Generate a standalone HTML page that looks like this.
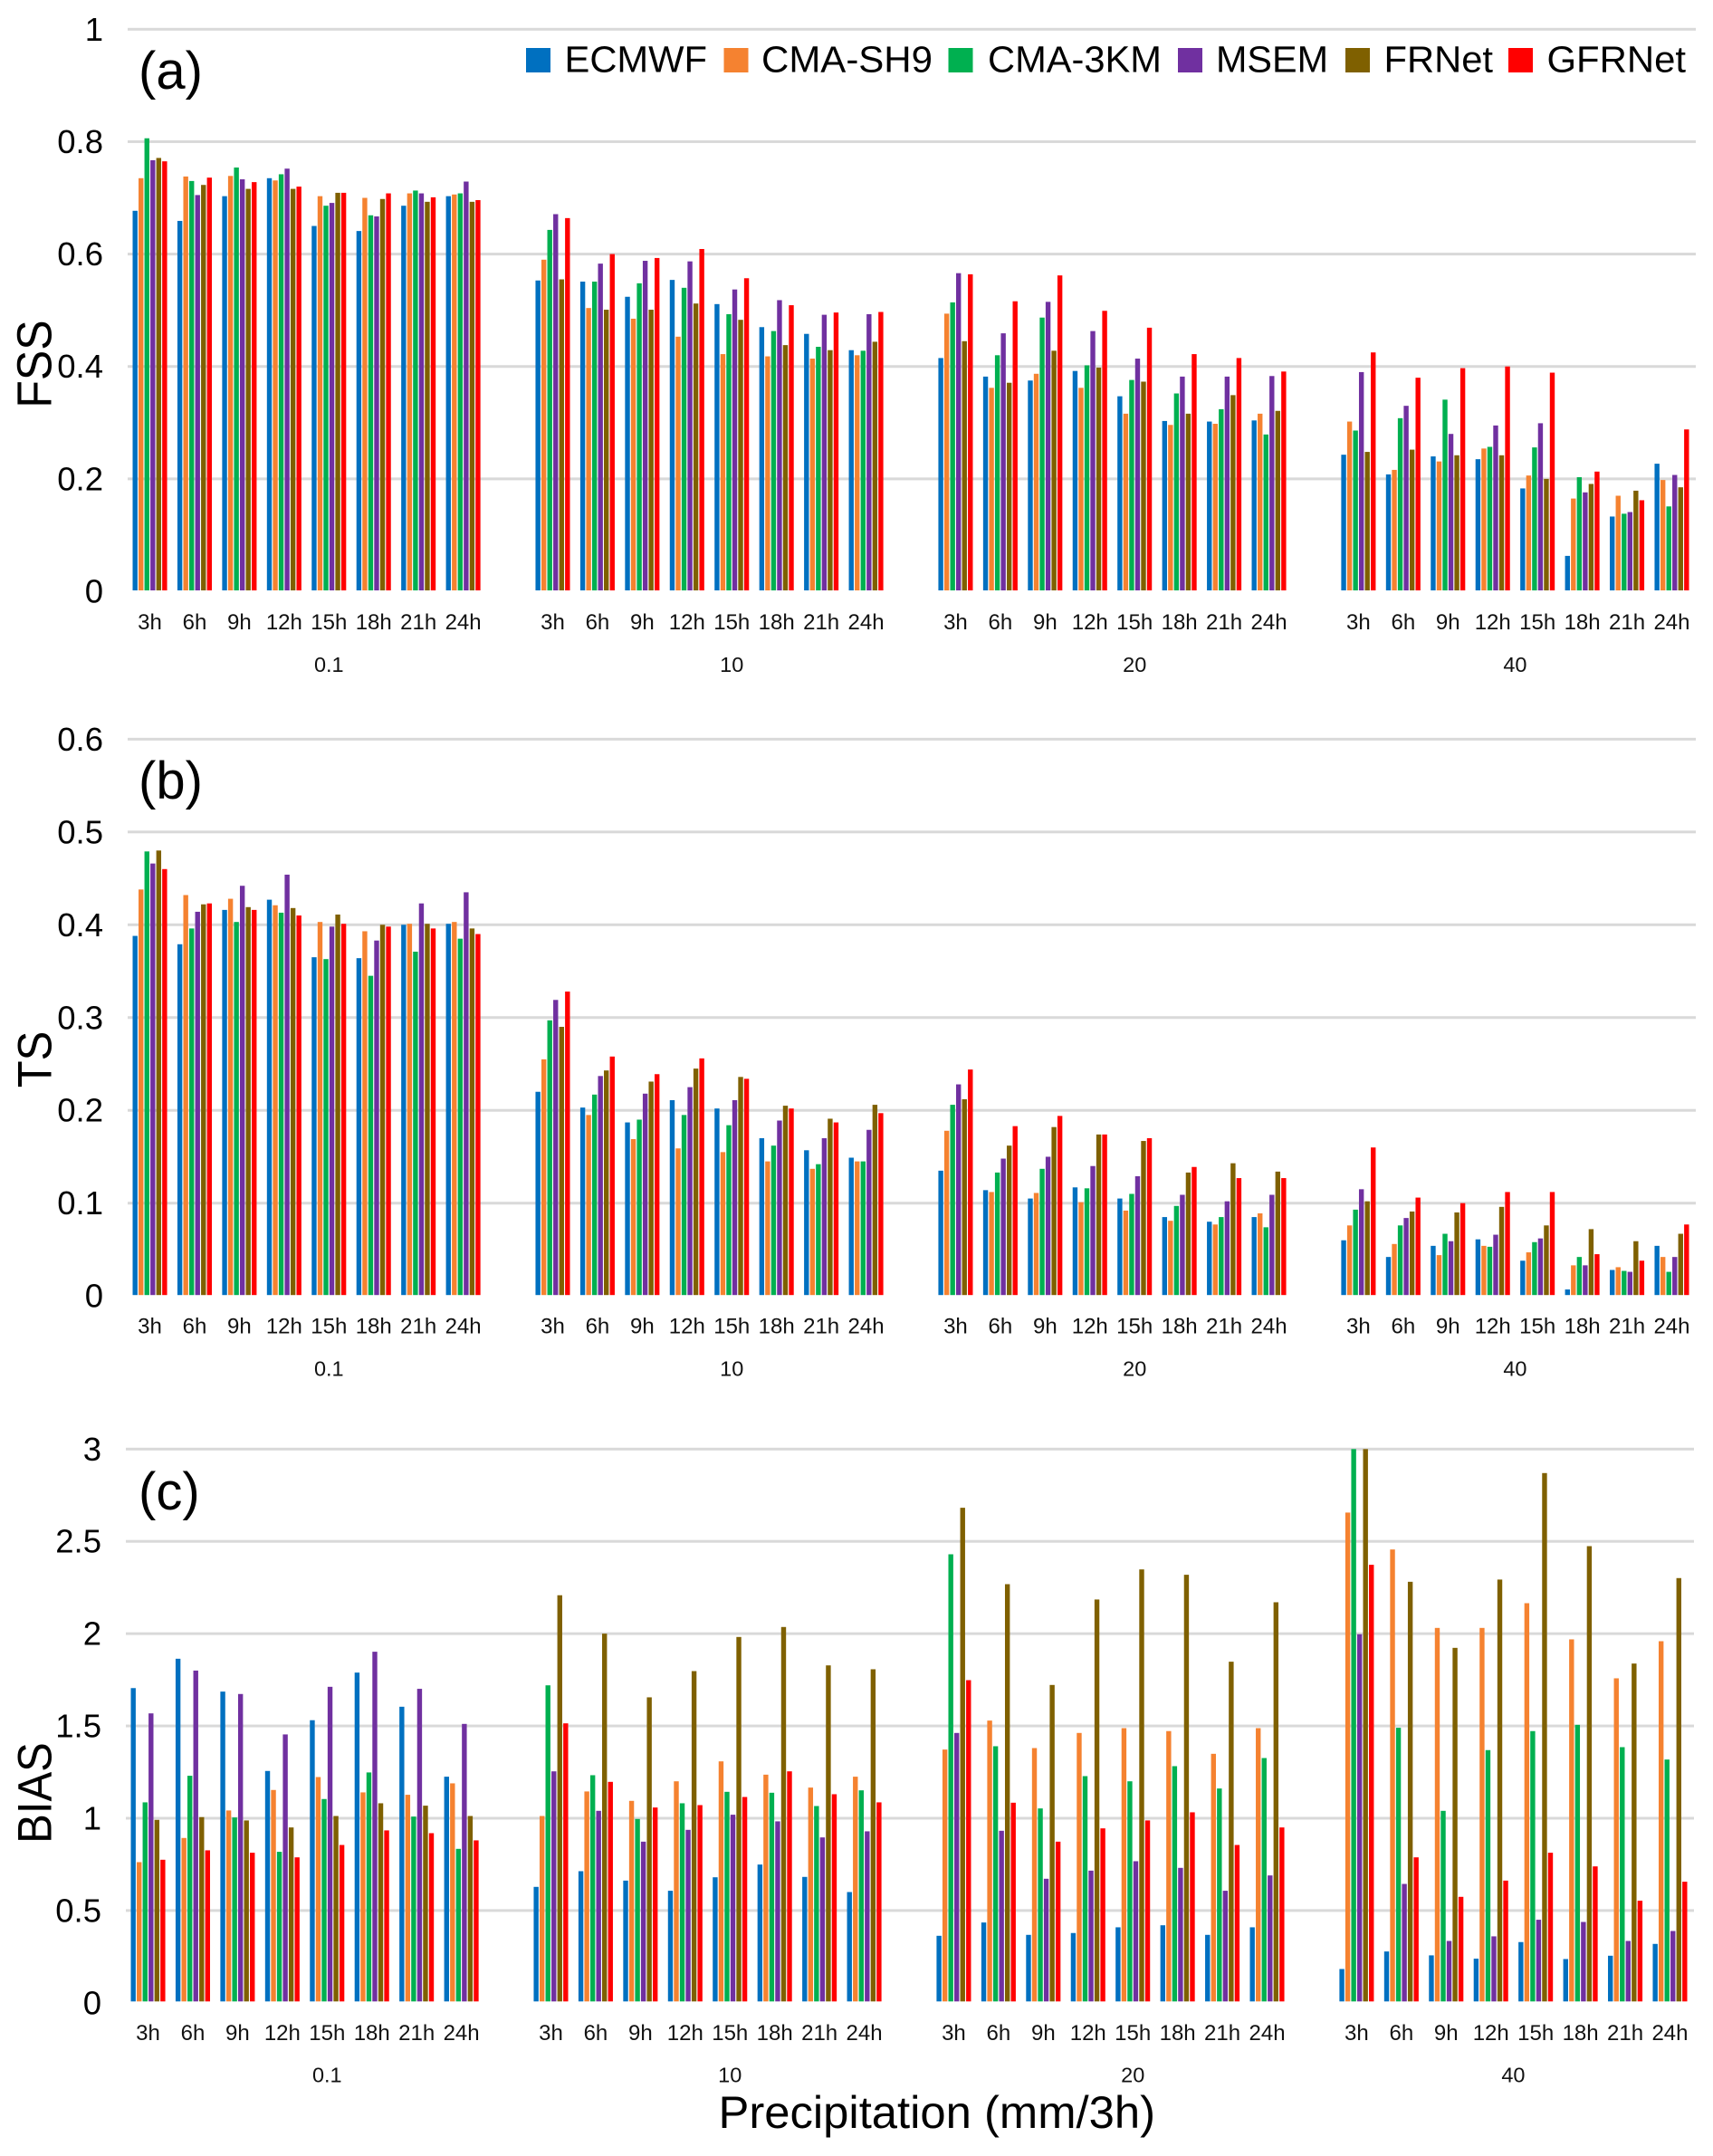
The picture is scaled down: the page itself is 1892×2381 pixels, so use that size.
<!DOCTYPE html>
<html lang="en">
<head>
<meta charset="utf-8">
<title>FSS, TS and BIAS by precipitation threshold</title>
<style>
  html, body { margin: 0; padding: 0; background: #ffffff; }
  body { width: 1892px; height: 2381px; overflow: hidden; }
  svg { display: block; font-family: "Liberation Sans", Arial, sans-serif; }
</style>
</head>
<body>
<svg id="chart" xmlns="http://www.w3.org/2000/svg" width="1892" height="2381" viewBox="0 0 1892 2381">
  <rect x="0" y="0" width="1892" height="2381" fill="#ffffff"/>
  <g id="panels"></g>

  <g font-size="41" fill="#000000">
    <rect x="581" y="53" width="27" height="27" fill="#0070C0"/>
    <text x="623.5" y="79.5" textLength="157.5" lengthAdjust="spacingAndGlyphs">ECMWF</text>
    <rect x="799.5" y="53" width="27" height="27" fill="#F58230"/>
    <text x="841" y="79.5" textLength="189" lengthAdjust="spacingAndGlyphs">CMA-SH9</text>
    <rect x="1047.5" y="53" width="27" height="27" fill="#00B050"/>
    <text x="1091" y="79.5" textLength="192" lengthAdjust="spacingAndGlyphs">CMA-3KM</text>
    <rect x="1301" y="53" width="27" height="27" fill="#7030A0"/>
    <text x="1343" y="79.5" textLength="124" lengthAdjust="spacingAndGlyphs">MSEM</text>
    <rect x="1486" y="53" width="27" height="27" fill="#7F6000"/>
    <text x="1528.5" y="79.5" textLength="120.5" lengthAdjust="spacingAndGlyphs">FRNet</text>
    <rect x="1666" y="53" width="27" height="27" fill="#FF0000"/>
    <text x="1708.5" y="79.5" textLength="153.5" lengthAdjust="spacingAndGlyphs">GFRNet</text>
  </g>

  <text x="153" y="98" font-size="58" fill="#000000">(a)</text>
  <text x="153" y="882" font-size="58" fill="#000000">(b)</text>
  <text x="153" y="1667" font-size="58" fill="#000000">(c)</text>

  <text transform="translate(56.5,402) rotate(-90) scale(1,1.08)" text-anchor="middle" font-size="50" fill="#000000">FSS</text>
  <text transform="translate(56.5,1170) rotate(-90) scale(1,1.08)" text-anchor="middle" font-size="49" fill="#000000">TS</text>
  <text transform="translate(56.5,1980) rotate(-90) scale(1,1.08)" text-anchor="middle" font-size="49" fill="#000000">BIAS</text>

  <text x="793.5" y="2350" font-size="50" fill="#000000" textLength="482.5" lengthAdjust="spacingAndGlyphs">Precipitation (mm/3h)</text>
</svg>

<script>
// Categories
const thresholds = ['0.1', '10', '20', '40'];
const leadTimes = ['3h', '6h', '9h', '12h', '15h', '18h', '21h', '24h'];
const modelNames = ['ECMWF', 'CMA-SH9', 'CMA-3KM', 'MSEM', 'FRNet', 'GFRNet'];
const modelColors = ['#0070C0', '#F58230', '#00B050', '#7030A0', '#7F6000', '#FF0000'];

// Tick labels
const fssTicks = ['0', '0.2', '0.4', '0.6', '0.8', '1'];
const tsTicks = ['0', '0.1', '0.2', '0.3', '0.4', '0.5', '0.6'];
const biasTicks = ['0', '0.5', '1', '1.5', '2', '2.5', '3'];

// FSS values: 8 lead times for each of the 4 thresholds
const fssECMWF = [.677,.659,.703,.735,.65,.641,.686,.703, .553,.551,.524,.554,.511,.47,.458,.429, .415,.382,.375,.392,.347,.303,.302,.304, .243,.208,.24,.235,.183,.063,.133,.227];
const fssSH9 = [.735,.738,.739,.731,.703,.70,.708,.706, .59,.504,.485,.453,.422,.418,.414,.42, .494,.362,.387,.362,.316,.296,.298,.316, .302,.216,.231,.254,.206,.165,.17,.198];
const fss3KM = [.806,.73,.754,.742,.686,.669,.713,.708, .643,.551,.548,.54,.493,.463,.435,.428, .514,.42,.487,.402,.376,.352,.324,.279, .286,.308,.341,.257,.256,.203,.138,.151];
const fssMSEM = [.767,.705,.733,.752,.691,.667,.708,.729, .671,.583,.588,.587,.537,.518,.492,.493, .566,.459,.515,.463,.414,.382,.382,.383, .39,.33,.28,.295,.299,.176,.141,.207];
const fssFRNet = [.771,.723,.716,.716,.709,.698,.693,.693, .555,.501,.501,.512,.483,.438,.429,.444, .445,.371,.428,.398,.373,.316,.349,.321, .248,.252,.242,.242,.20,.191,.179,.185];
const fssGFRNet = [.765,.736,.728,.72,.709,.708,.701,.696, .664,.60,.593,.609,.557,.509,.496,.497, .564,.516,.562,.499,.469,.422,.415,.391, .425,.38,.397,.40,.389,.213,.162,.288];

// TS values
const tsECMWF = [.388,.379,.416,.427,.365,.364,.40,.401, .22,.203,.187,.211,.202,.17,.157,.149, .135,.114,.105,.117,.105,.085,.08,.085, .06,.042,.054,.061,.038,.007,.028,.054];
const tsSH9 = [.438,.432,.428,.421,.403,.393,.401,.403, .255,.195,.169,.159,.155,.145,.137,.145, .178,.112,.111,.101,.092,.081,.077,.089, .076,.056,.044,.054,.047,.033,.031,.042];
const ts3KM = [.479,.396,.403,.413,.363,.345,.371,.385, .297,.217,.19,.195,.184,.162,.142,.145, .206,.133,.137,.116,.11,.097,.085,.074, .093,.076,.067,.053,.058,.042,.027,.026];
const tsMSEM = [.466,.414,.442,.454,.398,.383,.423,.435, .319,.237,.218,.225,.211,.189,.17,.179, .228,.148,.15,.14,.129,.109,.102,.109, .115,.084,.059,.066,.062,.033,.026,.042];
const tsFRNet = [.48,.422,.419,.418,.411,.40,.401,.396, .29,.243,.231,.245,.236,.205,.191,.206, .212,.162,.182,.174,.167,.133,.143,.134, .102,.091,.09,.096,.076,.072,.059,.067];
const tsGFRNet = [.46,.423,.416,.41,.401,.398,.396,.39, .328,.258,.239,.256,.234,.202,.187,.197, .244,.183,.194,.174,.17,.139,.127,.127, .16,.106,.10,.112,.112,.045,.038,.077];

// BIAS values (bars reaching 3 are cut off by the axis in the source)
const biasECMWF = [1.705,1.864,1.686,1.256,1.531,1.789,1.604,1.225, .628,.713,.662,.607,.68,.749,.682,.6, .363,.435,.368,.378,.409,.42,.368,.409, .183,.278,.257,.239,.329,.237,.255,.319];
const biasSH9 = [.762,.893,1.042,1.153,1.223,1.14,1.127,1.189, 1.012,1.145,1.094,1.2,1.308,1.236,1.166,1.225, 1.372,1.529,1.38,1.462,1.488,1.472,1.349,1.488, 2.656,2.456,2.031,2.031,2.165,1.969,1.758,1.959];
const bias3KM = [1.086,1.23,1.004,.818,1.104,1.248,1.009,.834, 1.72,1.233,.996,1.081,1.143,1.138,1.066,1.151, 2.43,1.39,1.053,1.228,1.2,1.282,1.161,1.326, 3,1.49,1.04,1.369,1.472,1.506,1.385,1.318];
const biasMSEM = [1.568,1.80,1.673,1.454,1.712,1.902,1.701,1.511, 1.254,1.04,.873,.937,1.019,.983,.896,.929, 1.462,.932,.672,.716,.767,.731,.607,.69, 1.997,.644,.335,.36,.45,.438,.335,.389];
const biasFRNet = [.991,1.006,.988,.95,1.012,1.081,1.068,1.012, 2.208,2.0,1.655,1.797,1.982,2.036,1.828,1.807, 2.682,2.268,1.722,2.185,2.348,2.319,1.848,2.17, 3,2.281,1.923,2.293,2.87,2.474,1.838,2.301];
const biasGFRNet = [.775,.826,.813,.788,.855,.934,.919,.88, 1.514,1.197,1.058,1.071,1.115,1.254,1.13,1.086, 1.748,1.084,.873,.945,.988,1.032,.855,.95, 2.373,.788,.574,.662,.813,.739,.553,.656];

const fssSeries = [fssECMWF, fssSH9, fss3KM, fssMSEM, fssFRNet, fssGFRNet];
const tsSeries = [tsECMWF, tsSH9, ts3KM, tsMSEM, tsFRNet, tsGFRNet];
const biasSeries = [biasECMWF, biasSH9, bias3KM, biasMSEM, biasFRNet, biasGFRNet];

const SVG_NS = 'http://www.w3.org/2000/svg';
const SLOT = 49.44;
const BAR_PITCH = 6.53;
const BAR_WIDTH = 5.4;
const root = document.getElementById('panels');

function makeEl(tag, parent) {
  const el = document.createElementNS(SVG_NS, tag);
  parent.appendChild(el);
  return el;
}

function drawPanel(metric, series, ticks, yMax, geo) {
  const yScale = function (v) { return geo.yZero - (v / yMax) * (geo.yZero - geo.yTop); };
  const slotIndex = function (t, h) { return t * (leadTimes.length + 1) + h; };
  const barX = function (t, h, s) { return geo.xStart + slotIndex(t, h) * SLOT + s * BAR_PITCH; };
  const groupCenter = function (t, h) { return geo.xStart + slotIndex(t, h) * SLOT + (BAR_PITCH * 5 + BAR_WIDTH) / 2; };

  const panel = makeEl('g', root);
  
  

  ticks.forEach(function (label) {
    const v = parseFloat(label);
    if (v > 0) {
      const line = makeEl('rect', panel);
      
      
      line.setAttribute('x', geo.gridLeft);
      line.setAttribute('y', yScale(v) - 1.5);
      line.setAttribute('width', geo.gridRight - geo.gridLeft);
      line.setAttribute('height', 3);
      line.setAttribute('fill', '#d9d9d9');
    }
    const tick = makeEl('text', panel);
    
    
    tick.setAttribute('x', geo.tickRight);
    tick.setAttribute('y', yScale(v) + 12.5);
    tick.setAttribute('text-anchor', 'end');
    tick.setAttribute('font-size', '36.5');
    tick.setAttribute('fill', '#000000');
    tick.textContent = label;
  });

  thresholds.forEach(function (thr, t) {
    leadTimes.forEach(function (hour, h) {
      series.forEach(function (values, s) {
        const v = values[t * leadTimes.length + h];
        const bar = makeEl('rect', panel);
        
        
        bar.setAttribute('x', barX(t, h, s));
        bar.setAttribute('y', yScale(v));
        bar.setAttribute('width', BAR_WIDTH);
        bar.setAttribute('height', Math.max(0, geo.barBase - yScale(v)));
        bar.setAttribute('fill', modelColors[s]);
      });
      const hourLabel = makeEl('text', panel);
      
      
      hourLabel.setAttribute('x', groupCenter(t, h));
      hourLabel.setAttribute('y', geo.hourBase);
      hourLabel.setAttribute('text-anchor', 'middle');
      hourLabel.setAttribute('font-size', '24');
      hourLabel.setAttribute('fill', '#111111');
      hourLabel.textContent = hour;
    });
    const thrLabel = makeEl('text', panel);
    
    
    thrLabel.setAttribute('x', groupCenter(t, t === thresholds.length - 1 ? 3.5 : 4));
    thrLabel.setAttribute('y', geo.thrBase);
    thrLabel.setAttribute('text-anchor', 'middle');
    thrLabel.setAttribute('font-size', '23.5');
    thrLabel.setAttribute('fill', '#111111');
    thrLabel.textContent = thr;
  });
}

drawPanel('fss', fssSeries, fssTicks, 1, { yTop: 32.3, yZero: 653, barBase: 652, xStart: 146.5, gridLeft: 141, gridRight: 1873, tickRight: 114, hourBase: 695, thrBase: 742 });
drawPanel('ts', tsSeries, tsTicks, 0.6, { yTop: 816.3, yZero: 1431.2, barBase: 1430.2, xStart: 146.5, gridLeft: 141, gridRight: 1873, tickRight: 114, hourBase: 1472.5, thrBase: 1519.5 });
drawPanel('bias', biasSeries, biasTicks, 3, { yTop: 1600.3, yZero: 2211.8, barBase: 2210.3, xStart: 144.5, gridLeft: 139, gridRight: 1871, tickRight: 112, hourBase: 2253, thrBase: 2299.5 });
</script>
</body>
</html>
